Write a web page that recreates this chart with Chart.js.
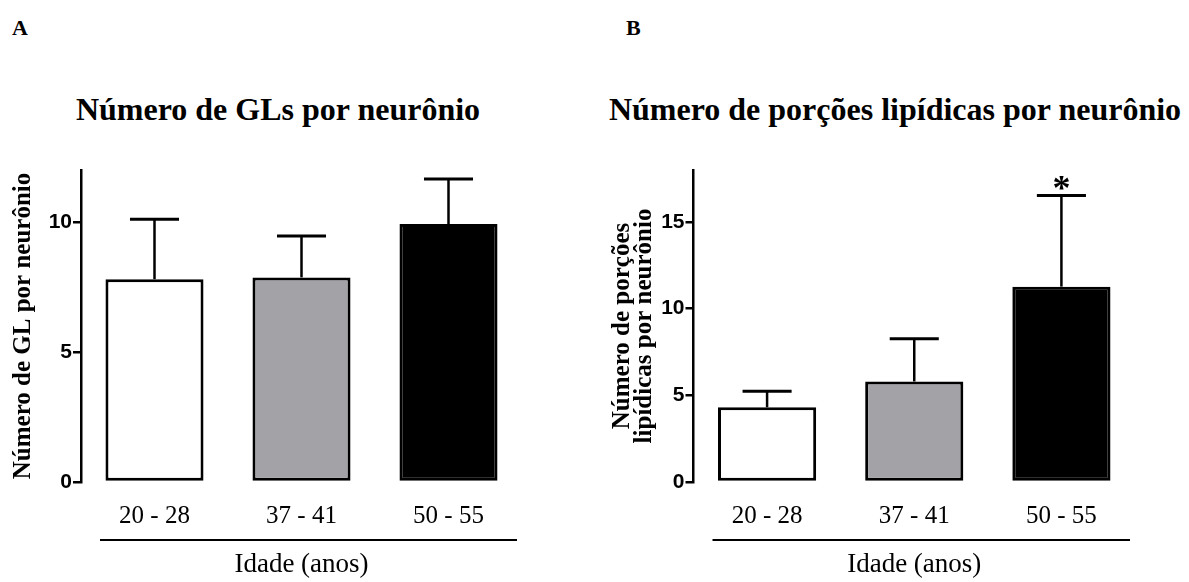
<!DOCTYPE html>
<html lang="pt">
<head>
    <meta charset="UTF-8">
    <title>Número de GLs e de porções lipídicas por neurônio</title>
    <script src="https://cdn.jsdelivr.net/npm/chart.js@4.4.1/dist/chart.umd.min.js"></script>
    <style>
        body {
            margin: 0;
            width: 1189px;
            height: 582px;
            position: relative;
            overflow: hidden;
            background: #fff;
            font-family: 'Liberation Serif', 'Times New Roman', serif;
            color: #000;
        }
        .panel-letter {
            position: absolute;
            top: 17px;
            font-size: 22px;
            font-weight: bold;
            line-height: 1;
        }
        .panel-title {
            position: absolute;
            top: 93px;
            font-size: 32px;
            font-weight: bold;
            line-height: 1;
            text-align: center;
            white-space: nowrap;
        }
        .chart-box {
            position: absolute;
            top: 0;
            height: 582px;
        }
    </style>
</head>
<body>
    <div class="panel-letter" style="left:12px">A</div>
    <div class="panel-letter" style="left:626px">B</div>
    <div class="panel-title" style="left:0; width:556px">Número de GLs por neurônio</div>
    <div class="panel-title" style="left:601px; width:588px">Número de porções lipídicas por neurônio</div>
    <div class="chart-box" style="left:0; width:556px"><canvas id="chart-a"></canvas></div>
    <div class="chart-box" style="left:601px; width:588px"><canvas id="chart-b"></canvas></div>

    <script>
        // faixas etárias
        const categories = ['20 - 28', '37 - 41', '50 - 55'];
        const barColors = ['#ffffff', '#a3a2a7', '#000000'];

        // A: número de GLs por neurônio (média e erro)
        const glMeans = [7.8, 7.87, 9.92];
        const glErrors = [2.31, 1.59, 1.73];
        const glTicks = [0, 5, 10];

        // B: número de porções lipídicas por neurônio
        const lipidMeans = [4.31, 5.8, 11.27];
        const lipidErrors = [0.92, 2.47, 5.26];
        const lipidTicks = [0, 5, 10, 15];
        const lipidSignificant = [false, false, true];

        const serif = 'Liberation Serif';
        const sans = 'Liberation Sans';

        // barras de erro, asterisco e linha sob as categorias
        const errorBarsPlugin = {
            id: 'errorBars',
            afterDatasetsDraw(chart, args, opts) {
                const ctx = chart.ctx;
                const yScale = chart.scales.y;
                const meta = chart.getDatasetMeta(0);
                ctx.save();
                ctx.strokeStyle = '#000';
                ctx.fillStyle = '#000';
                meta.data.forEach((bar, i) => {
                    const top = yScale.getPixelForValue(opts.means[i] + opts.errors[i]);
                    const capHalf = bar.width / 4;
                    ctx.lineWidth = 2.5;
                    ctx.beginPath();
                    ctx.moveTo(bar.x, bar.y);
                    ctx.lineTo(bar.x, top);
                    ctx.stroke();
                    ctx.lineWidth = 3;
                    ctx.beginPath();
                    ctx.moveTo(bar.x - capHalf, top);
                    ctx.lineTo(bar.x + capHalf, top);
                    ctx.stroke();
                    if (opts.marks && opts.marks[i]) {
                        ctx.font = 'bold 36px "' + serif + '"';
                        ctx.textAlign = 'center';
                        ctx.textBaseline = 'alphabetic';
                        ctx.fillText('*', bar.x, top + 5);
                    }
                });
                ctx.restore();
            },
            afterDraw(chart) {
                const area = chart.chartArea;
                const ctx = chart.ctx;
                const lineY = area.bottom + 58;
                ctx.save();
                ctx.strokeStyle = '#000';
                ctx.lineWidth = 2;
                ctx.beginPath();
                ctx.moveTo(area.left + 19, lineY);
                ctx.lineTo(area.right - 5, lineY);
                ctx.stroke();
                ctx.restore();
            }
        };

        function buildChart(canvasId, cfg) {
            return new Chart(document.getElementById(canvasId), {
                type: 'bar',
                data: {
                    labels: categories,
                    datasets: [{
                        data: cfg.means,
                        backgroundColor: barColors,
                        borderColor: '#000',
                        borderWidth: 3,
                        borderSkipped: false,
                        barPercentage: 0.667,
                        categoryPercentage: 1
                    }]
                },
                options: {
                    responsive: true,
                    maintainAspectRatio: false,
                    animation: false,
                    layout: {
                        padding: { top: 170, left: 0, right: cfg.padRight, bottom: 0 }
                    },
                    plugins: {
                        legend: { display: false },
                        tooltip: { enabled: false },
                        errorBars: { means: cfg.means, errors: cfg.errors, marks: cfg.marks }
                    },
                    scales: {
                        x: {
                            grid: { display: false, drawTicks: false },
                            border: { display: false },
                            afterFit: s => { s.height = 100; },
                            ticks: {
                                padding: 19,
                                color: '#000',
                                font: { family: serif, size: 25 }
                            },
                            title: {
                                display: true,
                                text: 'Idade (anos)',
                                color: '#000',
                                font: { family: serif, size: 27 },
                                padding: { top: 0, bottom: 1 }
                            }
                        },
                        y: {
                            min: 0,
                            max: cfg.max,
                            afterBuildTicks: s => { s.ticks = cfg.ticks.map(v => ({ value: v })); },
                            afterFit: s => { s.width = cfg.axisWidth; },
                            grid: {
                                drawOnChartArea: false,
                                drawTicks: true,
                                tickLength: 8,
                                color: '#000',
                                lineWidth: 2.5
                            },
                            border: { display: true, color: '#000', width: 2.5 },
                            ticks: {
                                padding: 1,
                                color: '#000',
                                font: { family: sans, weight: 'bold', size: 21 }
                            },
                            title: {
                                display: true,
                                text: cfg.yTitle,
                                color: '#000',
                                font: { family: serif, weight: 'bold', size: 25, lineHeight: 0.86 },
                                padding: { top: cfg.yTitlePad, bottom: 0 }
                            }
                        }
                    }
                },
                plugins: [errorBarsPlugin]
            });
        }

        buildChart('chart-a', {
            means: glMeans,
            errors: glErrors,
            ticks: glTicks,
            max: 12,
            yTitle: 'Número de GL por neurônio',
            axisWidth: 81,
            padRight: 34,
            yTitlePad: 13
        });

        buildChart('chart-b', {
            means: lipidMeans,
            errors: lipidErrors,
            marks: lipidSignificant,
            ticks: lipidTicks,
            max: 18,
            yTitle: ['Número de porções', 'lipídicas por neurônio'],
            axisWidth: 92.5,
            padRight: 54,
            yTitlePad: 11
        });
    </script>
</body>
</html>
